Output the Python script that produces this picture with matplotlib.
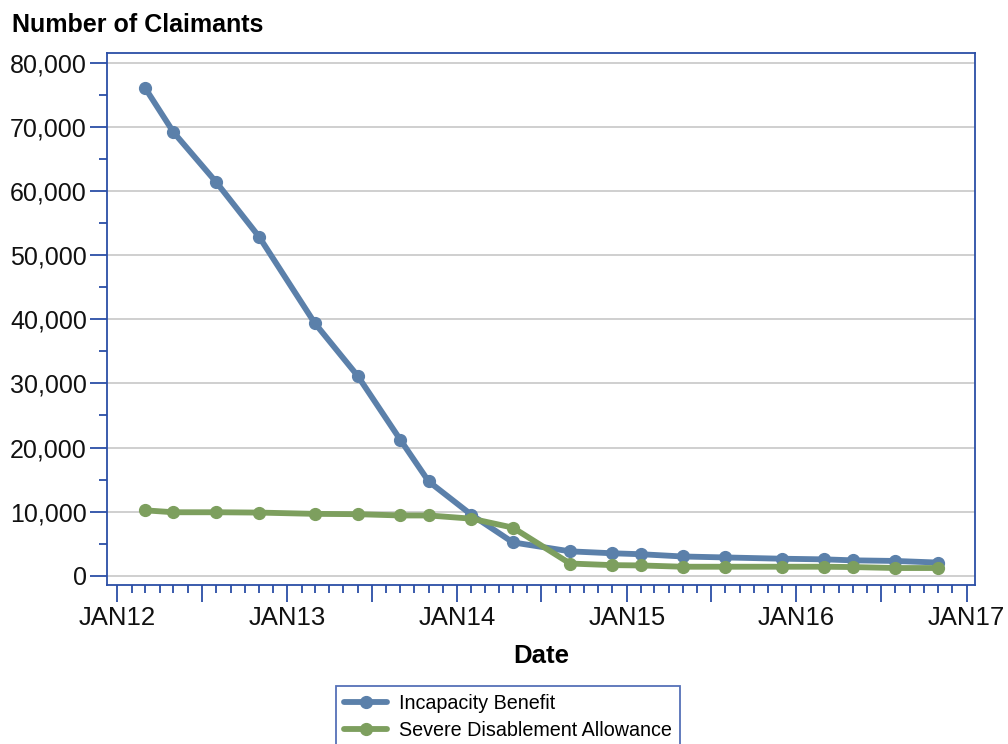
import datetime as dt
import matplotlib
matplotlib.use("Agg")
import matplotlib.pyplot as plt
import matplotlib.dates as mdates
import matplotlib.ticker as mticker

plt.rcParams['font.family'] = ['Liberation Sans', 'DejaVu Sans']

# claimant counts by month
months = ['2012-03', '2012-05', '2012-08', '2012-11', '2013-03', '2013-06',
          '2013-09', '2013-11', '2014-02', '2014-05', '2014-09', '2014-12',
          '2015-02', '2015-05', '2015-08', '2015-12', '2016-03', '2016-05',
          '2016-08', '2016-11']
incapacity = [76100, 69200, 61400, 52900, 39400, 31200, 21200, 14700, 9500, 5200,
              3800, 3500, 3350, 3000, 2850, 2650, 2550, 2400, 2300, 2050]
severe = [10200, 9900, 9900, 9850, 9650, 9600, 9400, 9400, 8900, 7500,
          1900, 1650, 1600, 1400, 1400, 1400, 1400, 1350, 1200, 1200]
series_names = ['Incapacity Benefit', 'Severe Disablement Allowance']

dates = [dt.datetime.strptime(m, '%Y-%m') for m in months]

blue = '#5b80aa'
green = '#7d9f5e'
frame = '#2b4ea6'

fig = plt.figure(figsize=(10.08, 7.44), dpi=100)
ax = fig.add_axes([107 / 1008, 1 - 585 / 744, 868 / 1008, 532 / 744])

ax.plot(dates, incapacity, color=blue, lw=4.2, marker='o', ms=8.5,
        label=series_names[0], solid_capstyle='round')
ax.plot(dates, severe, color=green, lw=4.2, marker='o', ms=8.5,
        label=series_names[1], solid_capstyle='round')

ax.set_xlim(dt.datetime(2011, 12, 10), dt.datetime(2017, 1, 19))
ax.set_ylim(-1450, 81560)

ax.yaxis.set_major_locator(mticker.MultipleLocator(10000))
ax.yaxis.set_minor_locator(mticker.MultipleLocator(5000))
ax.yaxis.set_major_formatter(mticker.FuncFormatter(lambda v, p: f'{int(v):,}'))

ax.xaxis.set_major_locator(mdates.MonthLocator(bymonth=[1, 7]))
ax.xaxis.set_minor_locator(mdates.MonthLocator())
ax.xaxis.set_major_formatter(mticker.FuncFormatter(
    lambda v, p: mdates.num2date(v).strftime('%b%y').upper()
    if mdates.num2date(v).month == 1 else ''))

ax.grid(axis='y', which='major', color='#cccccc', lw=1.3)
ax.set_axisbelow(True)

for s in ax.spines.values():
    s.set_color(frame)
    s.set_linewidth(1.3)

ax.tick_params(axis='both', which='major', length=12, width=1.3, color=frame,
               labelcolor='#111111')
ax.tick_params(axis='y', which='major', labelsize=18, pad=2.5)
ax.tick_params(axis='x', which='major', labelsize=18.5, pad=3)
ax.tick_params(axis='both', which='minor', length=6, width=1.3, color=frame)

fig.text(12 / 1008, 1 - 25 / 744, 'Number of Claimants', fontsize=18,
         fontweight='bold', va='center', ha='left')
fig.text(541 / 1008, 1 - 656 / 744, 'Date', fontsize=18.5,
         fontweight='bold', va='center', ha='center')

leg = fig.legend(loc='upper center', bbox_to_anchor=(508 / 1008, 1 - 686 / 744),
                 fontsize=14.2, frameon=True, fancybox=False, handlelength=2.2,
                 borderpad=0.4, labelspacing=0.4, handletextpad=0.6,
                 borderaxespad=0)
leg.get_frame().set_edgecolor(frame)
leg.get_frame().set_linewidth(1.3)

fig.savefig('out.png', dpi=100)
